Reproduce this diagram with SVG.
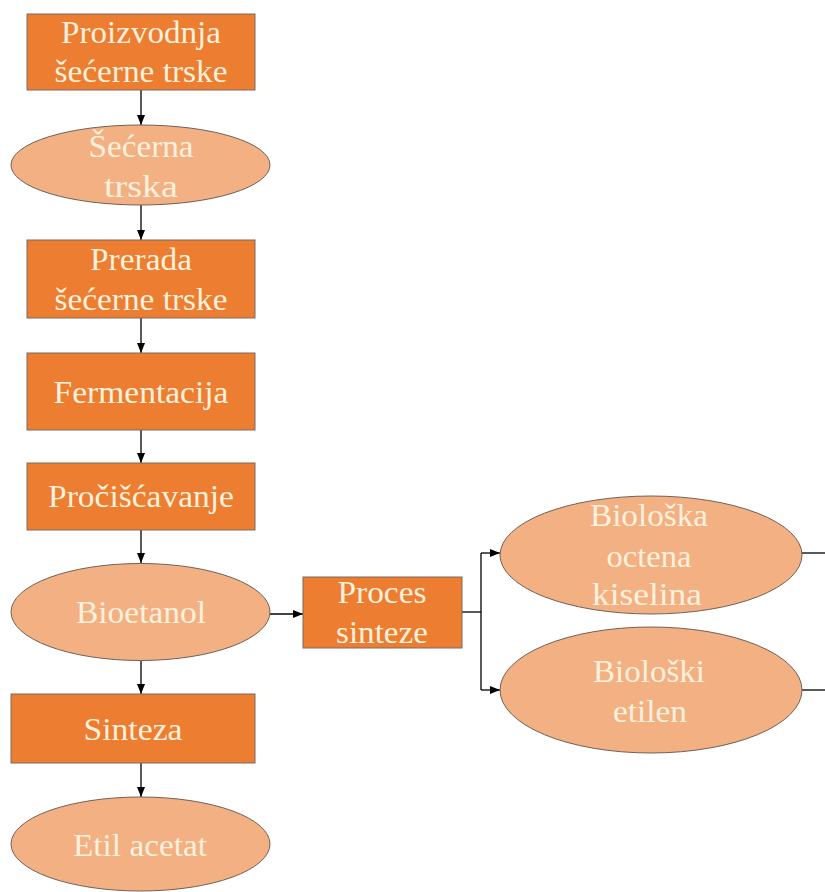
<svg xmlns="http://www.w3.org/2000/svg" width="825" height="892" viewBox="0 0 825 892">
<style>
.box{fill:#ED7D31;stroke:#7a6a60;stroke-width:1}
.ell{fill:#F3B083;stroke:#6f6158;stroke-width:1}
.t{font-family:"Liberation Serif","Times New Roman",serif;font-size:31.5px;fill:#FCF1DC;text-anchor:middle}
.c{fill:none;stroke:#000;stroke-width:1.3}
</style>
<defs>
<marker id="ah" markerWidth="10" markerHeight="8" refX="10" refY="4" orient="auto" markerUnits="userSpaceOnUse">
<path d="M0,0 L10,4 L0,8 z" fill="#000"/>
</marker>
</defs>
<rect width="825" height="892" fill="#fff"/>
<g id="connectors">
<line class="c" x1="141" y1="90" x2="141" y2="125" marker-end="url(#ah)"/>
<line class="c" x1="141" y1="205" x2="141" y2="240" marker-end="url(#ah)"/>
<line class="c" x1="141" y1="318" x2="141" y2="353" marker-end="url(#ah)"/>
<line class="c" x1="141" y1="430" x2="141" y2="463" marker-end="url(#ah)"/>
<line class="c" x1="141" y1="530" x2="141" y2="563" marker-end="url(#ah)"/>
<line class="c" x1="141" y1="661" x2="141" y2="694" marker-end="url(#ah)"/>
<line class="c" x1="141" y1="763" x2="141" y2="797" marker-end="url(#ah)"/>
<line class="c" x1="270" y1="614" x2="303" y2="614" marker-end="url(#ah)"/>
<line class="c" x1="462" y1="612" x2="481" y2="612"/>
<line class="c" x1="481" y1="553" x2="481" y2="690"/>
<line class="c" x1="481" y1="553" x2="500" y2="553" marker-end="url(#ah)"/>
<line class="c" x1="481" y1="690" x2="500" y2="690" marker-end="url(#ah)"/>
<line class="c" x1="802" y1="553" x2="825" y2="553"/>
<line class="c" x1="802" y1="690" x2="825" y2="690"/>
</g>
<g id="n1">
<rect class="box" x="27" y="14" width="228" height="76"/>
<text class="t" x="141" y="43" textLength="160" lengthAdjust="spacingAndGlyphs">Proizvodnja</text>
<text class="t" x="141" y="82" textLength="173" lengthAdjust="spacingAndGlyphs">šećerne trske</text>
</g>
<g id="n2">
<ellipse class="ell" cx="140.5" cy="165" rx="129.5" ry="40"/>
<text class="t" x="141" y="157" textLength="105" lengthAdjust="spacingAndGlyphs">Šećerna</text>
<text class="t" x="141" y="197" textLength="74" lengthAdjust="spacingAndGlyphs">trska</text>
</g>
<g id="n3">
<rect class="box" x="27" y="240" width="228" height="78"/>
<text class="t" x="141" y="270" textLength="102" lengthAdjust="spacingAndGlyphs">Prerada</text>
<text class="t" x="141" y="310" textLength="173" lengthAdjust="spacingAndGlyphs">šećerne trske</text>
</g>
<g id="n4">
<rect class="box" x="27" y="353" width="228" height="77"/>
<text class="t" x="141" y="403" textLength="175" lengthAdjust="spacingAndGlyphs">Fermentacija</text>
</g>
<g id="n5">
<rect class="box" x="27" y="463" width="228" height="67"/>
<text class="t" x="141" y="507" textLength="186" lengthAdjust="spacingAndGlyphs">Pročišćavanje</text>
</g>
<g id="n6">
<ellipse class="ell" cx="140.5" cy="612" rx="129.5" ry="48.5"/>
<text class="t" x="141" y="623" textLength="130" lengthAdjust="spacingAndGlyphs">Bioetanol</text>
</g>
<g id="n7">
<rect class="box" x="11" y="694" width="244" height="69"/>
<text class="t" x="133" y="740" textLength="99" lengthAdjust="spacingAndGlyphs">Sinteza</text>
</g>
<g id="n8">
<ellipse class="ell" cx="140.5" cy="844" rx="129.5" ry="47"/>
<text class="t" x="140" y="856" textLength="134" lengthAdjust="spacingAndGlyphs">Etil acetat</text>
</g>
<g id="n9">
<rect class="box" x="303" y="577" width="159" height="71"/>
<text class="t" x="382" y="603" textLength="89" lengthAdjust="spacingAndGlyphs">Proces</text>
<text class="t" x="382" y="643" textLength="92" lengthAdjust="spacingAndGlyphs">sinteze</text>
</g>
<g id="n10">
<ellipse class="ell" cx="651" cy="555" rx="151" ry="59"/>
<text class="t" x="649" y="526" textLength="118" lengthAdjust="spacingAndGlyphs">Biološka</text>
<text class="t" x="649" y="567" textLength="85" lengthAdjust="spacingAndGlyphs">octena</text>
<text class="t" x="647" y="605" textLength="110" lengthAdjust="spacingAndGlyphs">kiselina</text>
</g>
<g id="n11">
<ellipse class="ell" cx="651" cy="690" rx="151" ry="63"/>
<text class="t" x="649" y="682" textLength="112" lengthAdjust="spacingAndGlyphs">Biološki</text>
<text class="t" x="650" y="722" textLength="74" lengthAdjust="spacingAndGlyphs">etilen</text>
</g>
</svg>
